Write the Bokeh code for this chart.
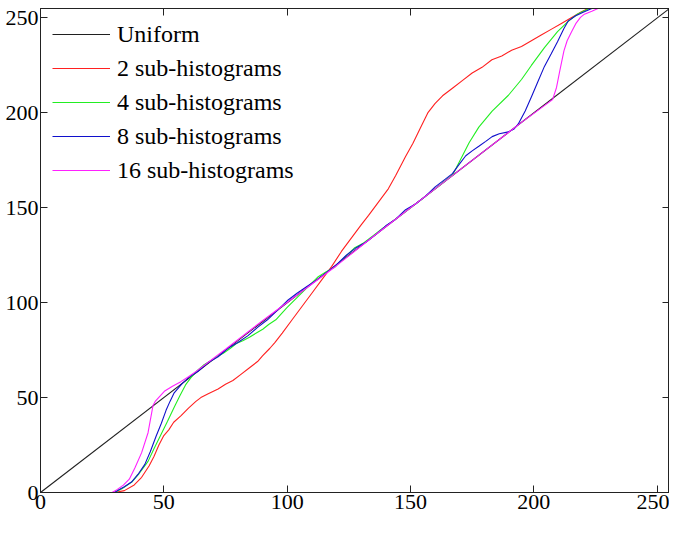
from bokeh.plotting import figure
from bokeh.models import Range1d, FixedTicker, LinearAxis, Legend, LegendItem
from bokeh.embed import file_html
from bokeh.resources import INLINE

# ---- data ----
uniform_x = [0, 255]
uniform_y = [0, 255]

sub2_x = [0, 30, 34, 38, 41, 44, 46, 48, 50, 52, 54, 57, 60, 63, 65, 68, 72, 75, 78, 81, 85, 88, 90, 93, 95,
          98, 102, 106, 110, 114, 118, 122, 126, 130, 133, 137, 141, 144, 148, 151, 154, 157, 160, 163, 167,
          171, 175, 179, 183, 187, 191, 195, 199, 203, 207, 211, 215, 219, 222, 255]
sub2_y = [0, 0, 1, 4, 8, 14, 19, 25, 30, 33, 37, 40.5, 44.5, 48, 50, 52, 54.5, 57, 59, 62, 66, 69, 72, 76, 79,
          84, 91, 98, 105, 112, 119, 127, 134, 141, 146, 153, 160, 167, 177, 184, 192, 200, 205, 209, 213,
          217, 221, 224, 228, 230, 233, 235, 238, 241, 244, 247, 250, 253, 255, 255]

sub4_x = [0, 30, 33, 37, 40, 43.6, 46, 48.9, 51.5, 54.2, 56.5, 58.8, 61, 63.5, 66, 68.8, 71.5, 74.1, 77, 79.4,
          82, 84.7, 87.5, 90.1, 92.5, 95.4, 100, 104.7, 108.5, 112.6, 116, 119.3, 123, 127.2, 131, 135, 138.5,
          141.9, 146, 150, 154, 158, 162, 167.1, 170.5, 173.7, 177.7, 183.1, 189.7, 195, 199, 204.3, 209.6,
          213.6, 217.6, 220, 222.5, 255]
sub4_y = [0, 0, 2, 5.5, 10, 16.4, 23, 30.7, 37.5, 44.9, 51, 56.7, 60.5, 64.2, 67, 69.3, 71.5, 73.4, 76, 78.5,
          80, 81.8, 84, 86, 88.5, 91, 97.5, 103.6, 108.5, 113.7, 116.5, 118.7, 123.5, 128.8, 131.5, 135.5, 139,
          142.2, 146, 150, 154, 158, 162, 167.4, 176, 184.1, 192.5, 200.9, 209.3, 217.6, 225, 234.4, 242.8,
          247.8, 252, 253.5, 255, 255]

sub8_x = [0, 30, 31.6, 34, 36.9, 39.5, 42.3, 44.5, 46.9, 49, 50.9, 52.5, 54.2, 57.5, 60, 64, 68, 72, 76, 80,
          84, 88, 92, 96, 100, 104, 108, 112, 116, 120, 124, 128, 132, 136, 140, 144, 148, 152, 156, 160, 164,
          167, 169.5, 172.4, 175, 177.7, 180.5, 183.1, 186, 189.7, 192, 193.7, 196.5, 199, 201.5, 204.3, 207,
          209.6, 212.2, 214, 217, 220, 223.5, 255]
sub8_y = [0, 0, 1.3, 3, 5.5, 9.5, 14.8, 21.5, 29.8, 36.5, 43.3, 48, 52.5, 57.5, 60.5, 64, 68.5, 71.5, 76, 79,
          82.5, 87, 91, 96, 101, 105, 108.5, 112, 116, 120, 125, 129, 132, 136, 140.5, 144, 149, 152, 156,
          161, 165, 168, 172.5, 177.4, 180, 182.4, 185, 187.5, 189, 190, 191.5, 194.2, 201, 208.4, 216, 224.5,
          231, 237.5, 244.5, 248.5, 251.2, 253, 255, 255]

sub16_x = [0, 29, 31, 33.6, 36, 38.3, 41, 43.6, 45.6, 46.5, 50.2, 53.5, 56.9, 60, 63.5, 75, 90, 105, 120,
           135, 150, 165, 180, 195, 207.6, 209.2, 210.5, 212.2, 213.5, 215.2, 217, 218.9, 220.5, 223.5,
           226, 255]
sub16_y = [0, 0, 1.5, 3.9, 7, 13, 21, 31.5, 45.8, 48, 53.3, 56, 58.4, 61, 64.2, 75.5, 90.5, 105, 119.5,
           135, 150, 165, 180, 195, 207, 213.4, 222, 232.7, 238, 242.5, 247, 250.3, 252, 253.5, 255, 255]

names = ["Uniform", "2 sub-histograms", "4 sub-histograms", "8 sub-histograms", "16 sub-histograms"]
colors = ["#202020", "#ff2020", "#22ee22", "#1010cc", "#ff20ff"]
series = [(uniform_x, uniform_y), (sub2_x, sub2_y), (sub4_x, sub4_y), (sub8_x, sub8_y), (sub16_x, sub16_y)]
ticks = [0, 50, 100, 150, 200, 250]

FONT = "Liberation Serif"

p = figure(width=669, height=518, output_backend="svg", toolbar_location=None,
           x_range=Range1d(0, 255), y_range=Range1d(0, 255),
           min_border_left=40, min_border_right=0, min_border_top=8, min_border_bottom=26)
p.xgrid.visible = False
p.ygrid.visible = False
p.outline_line_color = "#222222"
p.outline_line_width = 1
p.background_fill_color = "white"
p.border_fill_color = "white"

for ax in (p.xaxis[0], p.yaxis[0]):
    ax.ticker = FixedTicker(ticks=ticks)
    ax.major_tick_in = 7
    ax.major_tick_out = 0
    ax.minor_tick_line_color = None
    ax.axis_line_color = "#222222"
    ax.major_tick_line_color = "#222222"
    ax.major_label_text_font = FONT
    ax.major_label_text_font_size = "22px"
    ax.major_label_text_color = "black"
    ax.major_label_standoff = 2

for loc in ("above", "right"):
    ax = LinearAxis(ticker=FixedTicker(ticks=ticks))
    ax.major_tick_in = 7
    ax.major_tick_out = 0
    ax.minor_tick_line_color = None
    ax.axis_line_color = "#222222"
    ax.major_tick_line_color = "#222222"
    ax.major_label_text_font_size = "0px"
    ax.major_label_standoff = 0
    ax.major_label_text_color = None
    p.add_layout(ax, loc)

renderers = []
for (xs, ys), c in zip(series, colors):
    r = p.line(xs, ys, line_color=c, line_width=1.1)
    renderers.append(r)

legend = Legend(items=[LegendItem(label=n, renderers=[r]) for n, r in zip(names, renderers)],
                location="top_left")
legend.border_line_color = None
legend.background_fill_alpha = 0
legend.label_text_font = FONT
legend.label_text_font_size = "24px"
legend.label_text_color = "black"
legend.glyph_width = 58
legend.glyph_height = 28
legend.label_height = 28
legend.label_standoff = 7
legend.spacing = 6
legend.padding = 10
legend.margin = 12
p.add_layout(legend)

open("out.html", "w").write(file_html(p, INLINE))
